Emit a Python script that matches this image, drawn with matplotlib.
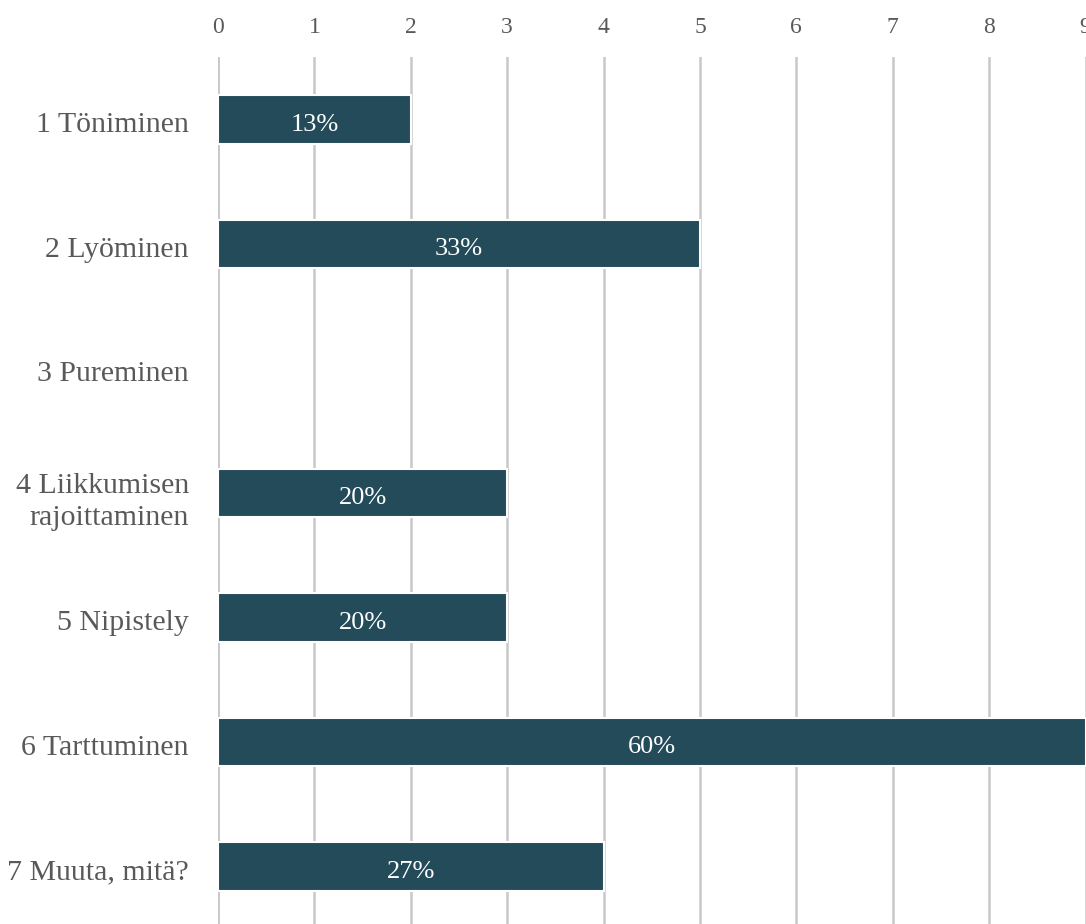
import matplotlib.pyplot as plt
import matplotlib.transforms as mtransforms
import numpy as np

categories = ["1 Töniminen", "2 Lyöminen", "3 Pureminen",
              "4 Liikkumisen\nrajoittaminen", "5 Nipistely",
              "6 Tarttuminen", "7 Muuta, mitä?"]
counts = [2, 5, 0, 3, 3, 9, 4]
respondents = 15  # percentages are shares of respondents (several answers allowed)

plt.rcParams['font.family'] = ['Liberation Serif', 'DejaVu Serif']

fig = plt.figure(figsize=(10.86, 9.24), dpi=100)
ax = fig.add_axes([218 / 1086, -4.8 / 924, (1085.5 - 218) / 1086, (928.8 - 57) / 924])

# nudge text a little below the geometric centre of each row
down = mtransforms.ScaledTranslation(0, -3 / 100, fig.dpi_scale_trans)

y = np.arange(len(categories))
bars = ax.barh(y, counts, height=0.39, color="#234B5A", edgecolor="#ffffff",
               linewidth=[1.5 if c else 0 for c in counts], zorder=3)

for b, c in zip(bars, counts):
    if c == 0:
        continue
    ax.text(b.get_width() / 2, b.get_y() + b.get_height() / 2,
            "{:.0f}%".format(100 * c / respondents), color="white", fontsize=19,
            ha="center", va="center_baseline", zorder=4,
            transform=ax.transData + down)

ax.set_xlim(0, 9)
ax.set_ylim(len(categories) - 0.5, -0.5)
ax.set_yticks(y)
ax.set_yticklabels(categories, fontsize=21.5, color="#595959", ha="right",
                   va="center_baseline", multialignment="right", linespacing=1.3)
ax.set_xticks(range(10))
ax.xaxis.tick_top()
ax.tick_params(axis="x", length=0, pad=14, labelsize=17, labelcolor="#595959")
ax.tick_params(axis="y", length=0, pad=21)
for lbl in ax.get_yticklabels():
    lbl.set_transform(lbl.get_transform() + down)

ax.grid(axis="x", color="#C8C8C8", linewidth=1.8, zorder=0)
ax.axvline(0, color="#C5D3E6", linewidth=2, zorder=1)
for s in ax.spines.values():
    s.set_visible(False)

fig.savefig("out.png", dpi=100)
